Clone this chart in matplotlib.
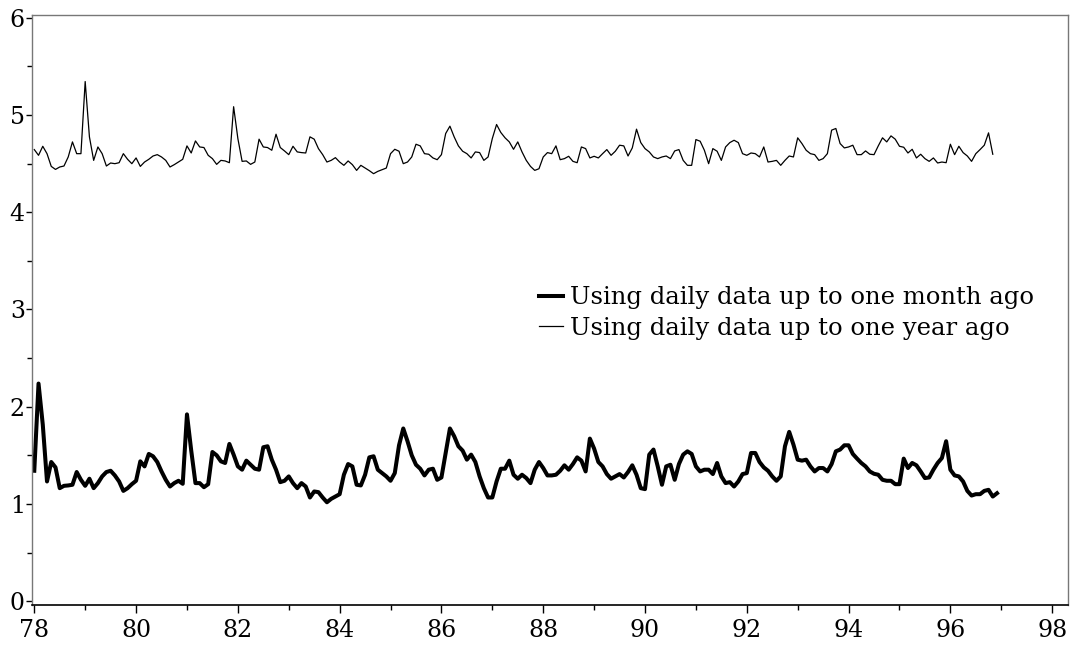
import numpy as np
import matplotlib
matplotlib.use("Agg")
import matplotlib.pyplot as plt
from matplotlib.ticker import MultipleLocator

# monthly series starting Jan 1978
year_ago = [
    4.645, 4.586, 4.679, 4.603, 4.472, 4.441, 4.466, 4.476, 4.569, 4.724, 4.603, 4.603,
    5.345, 4.776, 4.534, 4.672, 4.603, 4.476, 4.507, 4.500, 4.510, 4.603, 4.545, 4.500,
    4.559, 4.472, 4.517, 4.545, 4.579, 4.593, 4.569, 4.534, 4.466, 4.490, 4.517, 4.545,
    4.683, 4.610, 4.734, 4.672, 4.666, 4.586, 4.552, 4.493, 4.534, 4.528, 4.510, 5.086,
    4.759, 4.524, 4.528, 4.493, 4.517, 4.752, 4.672, 4.666, 4.638, 4.803, 4.666, 4.631,
    4.593, 4.679, 4.621, 4.614, 4.610, 4.776, 4.752, 4.655, 4.593, 4.517, 4.534, 4.562,
    4.517, 4.483, 4.528, 4.490, 4.431, 4.483, 4.455, 4.428, 4.397, 4.421, 4.438, 4.455,
    4.603, 4.648, 4.628, 4.500, 4.517, 4.569, 4.700, 4.683, 4.603, 4.597, 4.559,
    4.541, 4.593, 4.810, 4.886, 4.776, 4.683, 4.628, 4.603, 4.559, 4.621, 4.614, 4.534,
    4.569, 4.759, 4.903, 4.821, 4.766, 4.724, 4.648, 4.724, 4.621, 4.534, 4.472, 4.431,
    4.448, 4.569, 4.614, 4.603, 4.683, 4.541, 4.552, 4.576, 4.524, 4.510, 4.672, 4.655,
    4.559, 4.576, 4.559, 4.603, 4.645, 4.586, 4.628, 4.690, 4.683, 4.579, 4.662,
    4.855, 4.717, 4.655, 4.621, 4.569, 4.552, 4.569, 4.579, 4.552, 4.631, 4.645, 4.534,
    4.483, 4.483, 4.748, 4.731, 4.638, 4.500, 4.655, 4.628, 4.534, 4.672, 4.717, 4.741,
    4.717, 4.603, 4.586, 4.610, 4.603, 4.569, 4.672, 4.517, 4.524, 4.534, 4.483, 4.534,
    4.579, 4.569, 4.766, 4.707, 4.638, 4.603, 4.593, 4.534, 4.552, 4.603, 4.845,
    4.862, 4.707, 4.662, 4.672, 4.690, 4.593, 4.593, 4.631, 4.597, 4.593, 4.683, 4.766,
    4.724, 4.786, 4.752, 4.679, 4.669, 4.610, 4.648, 4.559, 4.597, 4.552, 4.524, 4.559,
    4.507, 4.517, 4.510, 4.700, 4.593, 4.679, 4.614, 4.579, 4.524, 4.603, 4.645, 4.690,
    4.817, 4.597,
]

month_ago = [
    1.341, 2.238, 1.817, 1.231, 1.431, 1.376, 1.162, 1.186, 1.190, 1.197, 1.328, 1.248,
    1.186, 1.259, 1.162, 1.214, 1.283, 1.328, 1.341, 1.293, 1.231, 1.134, 1.162, 1.203,
    1.238, 1.438, 1.386, 1.514, 1.490, 1.431, 1.334, 1.248, 1.179, 1.214, 1.238, 1.207,
    1.921, 1.550, 1.214, 1.214, 1.172, 1.203, 1.534, 1.500, 1.438, 1.421, 1.617, 1.507,
    1.386, 1.352, 1.445, 1.403, 1.362, 1.352, 1.583, 1.593, 1.455, 1.352, 1.224, 1.238,
    1.283, 1.214, 1.162, 1.214, 1.179, 1.066, 1.128, 1.121, 1.066, 1.017, 1.052, 1.076,
    1.100, 1.300, 1.410, 1.386, 1.197, 1.190, 1.300, 1.479, 1.490, 1.352, 1.317, 1.283,
    1.238, 1.317, 1.603, 1.776, 1.645, 1.500, 1.403, 1.362, 1.293, 1.352, 1.362,
    1.248, 1.272, 1.524, 1.776, 1.697, 1.593, 1.548, 1.455, 1.507, 1.431, 1.283, 1.162,
    1.066, 1.066, 1.231, 1.362, 1.362, 1.445, 1.300, 1.259, 1.300, 1.266, 1.214, 1.352,
    1.431, 1.369, 1.293, 1.293, 1.300, 1.341, 1.397, 1.352, 1.410, 1.479, 1.445, 1.334,
    1.672, 1.569, 1.431, 1.386, 1.307, 1.259, 1.283, 1.307, 1.272, 1.328, 1.397,
    1.300, 1.162, 1.152, 1.507, 1.559, 1.386, 1.197, 1.386, 1.403, 1.248, 1.410, 1.507,
    1.541, 1.514, 1.386, 1.334, 1.352, 1.352, 1.307, 1.421, 1.283, 1.214, 1.224, 1.179,
    1.231, 1.307, 1.317, 1.524, 1.524, 1.431, 1.376, 1.341, 1.283, 1.238, 1.283, 1.593,
    1.741, 1.610, 1.455, 1.445, 1.455, 1.386, 1.334, 1.369, 1.369, 1.334, 1.410,
    1.541, 1.559, 1.603, 1.603, 1.514, 1.466, 1.421, 1.386, 1.334, 1.310, 1.300, 1.248,
    1.238, 1.238, 1.203, 1.203, 1.466, 1.369, 1.421, 1.397, 1.334, 1.266, 1.272, 1.352,
    1.421, 1.472, 1.645, 1.352, 1.293, 1.283, 1.231, 1.134, 1.086, 1.100, 1.100, 1.134,
    1.145, 1.076, 1.110,
]

labels = ["Using daily data up to one month ago",
          "Using daily data up to one year ago"]

plt.rcParams['font.family'] = ['DejaVu Serif']

x_month = 78 + np.arange(len(month_ago)) / 12
x_year = 78 + np.arange(len(year_ago)) / 12

fig = plt.figure(figsize=(10.76, 6.47), dpi=100, facecolor='white')
ax = fig.add_axes([0.0295, 0.0649, 0.963, 0.912])

ax.plot(x_month, month_ago, color='black', linewidth=2.9, label=labels[0],
        solid_joinstyle='round')
ax.plot(x_year, year_ago, color='black', linewidth=0.9, label=labels[1])

ax.set_xlim(77.95, 98.31)
ax.set_ylim(-0.04, 6.03)
ax.xaxis.set_major_locator(MultipleLocator(2))
ax.xaxis.set_minor_locator(MultipleLocator(1))
ax.yaxis.set_major_locator(MultipleLocator(1))
ax.yaxis.set_minor_locator(MultipleLocator(0.5))
ax.tick_params(axis='both', which='major', labelsize=17, length=6, width=1, direction='out')
ax.tick_params(axis='both', which='minor', length=3.5, width=1, direction='out')
ax.tick_params(axis='y', which='major', length=4, pad=1)
ax.tick_params(axis='x', which='major', pad=4)

for s in ['left', 'top', 'right']:
    ax.spines[s].set_color('#777777')
    ax.spines[s].set_linewidth(1)
ax.spines['bottom'].set_color('black')
ax.spines['bottom'].set_linewidth(1.2)

ax.legend(loc='upper left', bbox_to_anchor=(0.49, 0.54), frameon=False,
          fontsize=17.5, handlelength=0.95, handletextpad=0.3, borderpad=0,
          labelspacing=0.3, borderaxespad=0)

fig.savefig('out.png', dpi=100, facecolor='white')
